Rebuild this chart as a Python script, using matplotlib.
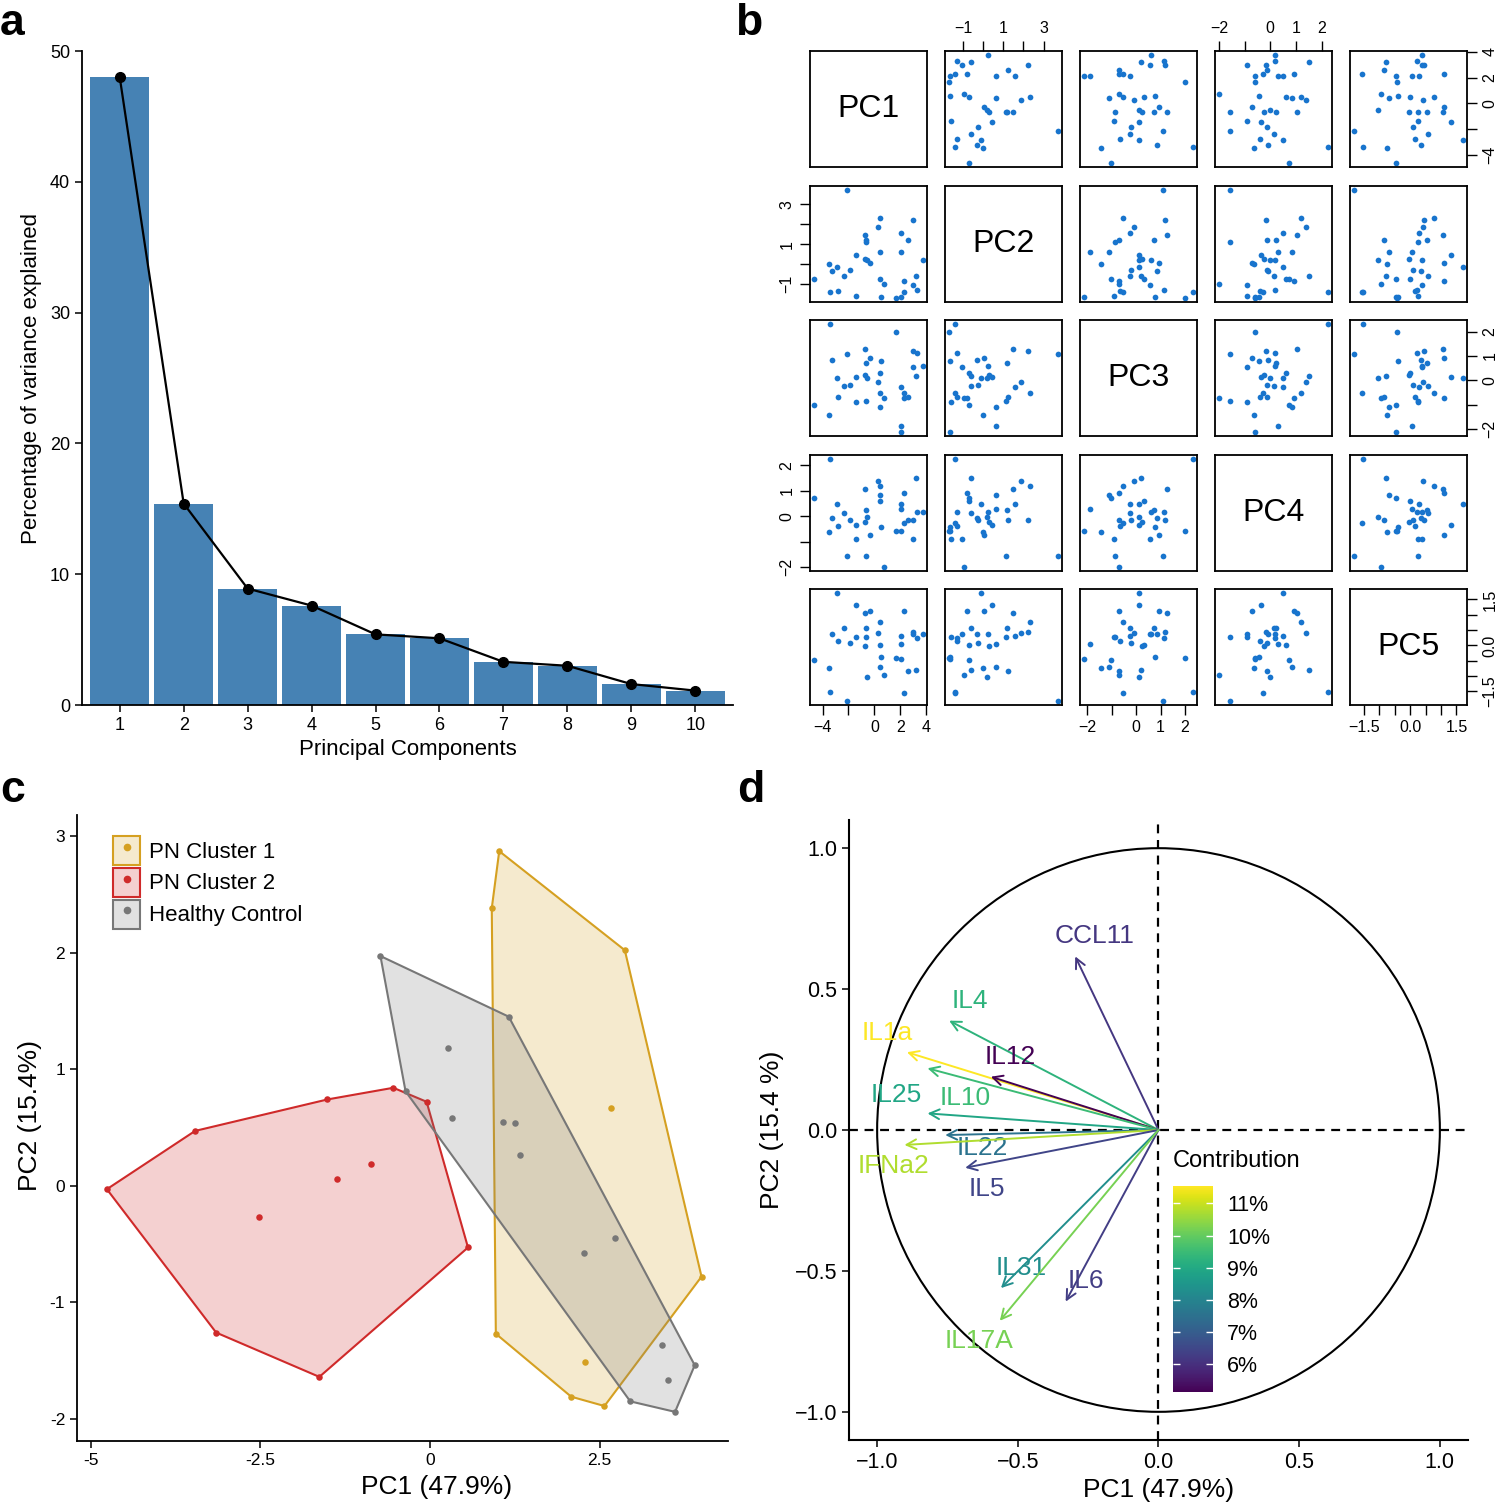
import matplotlib
matplotlib.use("Agg")
import matplotlib.pyplot as plt
import numpy as np
from matplotlib.patches import Circle, Patch
from matplotlib.lines import Line2D
from matplotlib.cm import ScalarMappable
from matplotlib.colors import Normalize

plt.rcParams['font.family'] = ['Liberation Sans', 'DejaVu Sans']

# ---------------- data ----------------
# a: scree plot
pcs = np.arange(1, 11)
var_pct = [48.0, 15.4, 8.9, 7.6, 5.4, 5.1, 3.3, 3.0, 1.6, 1.1]

# b: scores of the first five components (one value per sample)
pc1_s = [-4.64, -3.50, -3.44, -3.24, -2.87, -2.80, -2.38, -2.15, -1.89, -1.45, -1.39, -0.72,
         -0.67, -0.67, -0.72, -0.56, -0.33, 0.27, 0.45, 0.42, 0.45, 0.53, 0.73, 1.66, 2.10,
         2.10, 2.10, 2.31, 2.26, 2.57, 3.01, 3.01, 3.22, 3.27, 3.74]
pc2_s = [-0.72, 0.00, -1.38, -0.32, -0.13, -1.32, -0.58, 3.70, -0.27, 0.45, -1.58, 1.48,
         1.20, 1.12, 0.28, 0.20, 0.05, 1.87, 2.33, 0.62, -0.72, -1.65, -0.97, -1.68, 1.57,
         0.62, -1.63, -1.38, -0.82, 1.22, 2.23, -1.03, -0.60, -1.30, 0.22]
pc3_s = [-1.01, -1.45, 2.31, 0.85, 0.10, -0.67, -0.25, 1.09, -0.20, 0.12, -0.89, 1.28,
         0.71, -0.87, 0.23, 0.10, 0.93, -0.07, -0.52, -1.12, 0.30, 0.78, -0.71, 1.99, -0.26,
         -1.89, -2.12, -0.53, -0.71, -0.70, 1.19, 0.55, 0.19, 1.12, 0.61]
pc4_s = [0.72, -0.63, 2.23, -0.09, 0.48, -0.40, 0.13, -1.56, -0.13, -0.35, -0.91, 1.05,
         0.23, -1.56, -0.23, -0.03, -0.72, 1.38, 1.20, 0.85, 0.60, -0.42, -1.98, -0.60, 0.48,
         0.30, -0.59, -0.27, 0.91, -0.13, -0.16, -0.91, 1.51, 0.18, 0.18]
pc5_s = [-0.47, -0.74, -1.51, 0.36, 1.70, 0.16, 0.57, -1.80, 0.08, 1.33, 0.27, 1.06,
         0.56, 0.27, -0.03, -1.04, 1.11, 0.42, 0.78, -0.69, 0.00, -0.39, -0.95, -0.42, 0.30,
         0.06, -0.44, -1.54, 1.11, -0.83, 0.45, 0.38, -0.79, 0.24, 0.38]
pc_names = ['PC1', 'PC2', 'PC3', 'PC4', 'PC5']

# c: individuals on PC1/PC2 by group
c1_x = [1.02, 0.91, 2.87, 2.66, 4.00, 0.97, 2.29, 2.08, 2.57]
c1_y = [2.87, 2.38, 2.02, 0.67, -0.78, -1.27, -1.51, -1.81, -1.89]
c2_x = [-4.76, -3.46, -3.15, -1.63, -1.51, -0.54, 0.56, -2.52, -1.37, -0.87, -0.05]
c2_y = [-0.03, 0.47, -1.26, -1.64, 0.74, 0.84, -0.53, -0.27, 0.06, 0.19, 0.72]
hc_x = [-0.73, 1.16, 0.26, -0.36, 0.33, 1.07, 1.25, 1.32, 2.27, 2.73, 3.42, 3.51, 3.90, 2.95, 3.61]
hc_y = [1.97, 1.45, 1.18, 0.81, 0.58, 0.55, 0.54, 0.26, -0.58, -0.45, -1.37, -1.67, -1.54, -1.85, -1.94]
group_names = ['PN Cluster 1', 'PN Cluster 2', 'Healthy Control']

# d: variable loadings and contributions
var_names = ['CCL11', 'IL4', 'IL1a', 'IL12', 'IL10', 'IL25', 'IL22', 'IFNa2', 'IL5', 'IL31', 'IL6', 'IL17A']
load_x = [-0.296, -0.744, -0.894, -0.596, -0.821, -0.821, -0.758, -0.903, -0.687, -0.560, -0.330, -0.564]
load_y = [0.616, 0.388, 0.276, 0.189, 0.219, 0.059, -0.018, -0.053, -0.134, -0.561, -0.609, -0.677]
contrib = [6.14, 9.26, 11.53, 5.14, 9.50, 8.91, 7.57, 10.76, 6.45, 8.27, 6.31, 10.21]
lab_x = [-0.226, -0.669, -0.965, -0.527, -0.687, -0.931, -0.625, -0.941, -0.610, -0.488, -0.259, -0.637]
lab_y = [0.688, 0.456, 0.345, 0.259, 0.113, 0.124, -0.064, -0.127, -0.208, -0.488, -0.536, -0.750]


def convex_hull(xs, ys):
    pts = sorted(set(zip(xs, ys)))

    def cross(o, a, b):
        return (a[0] - o[0]) * (b[1] - o[1]) - (a[1] - o[1]) * (b[0] - o[0])

    lower, upper = [], []
    for p in pts:
        while len(lower) >= 2 and cross(lower[-2], lower[-1], p) <= 0:
            lower.pop()
        lower.append(p)
    for p in reversed(pts):
        while len(upper) >= 2 and cross(upper[-2], upper[-1], p) <= 0:
            upper.pop()
        upper.append(p)
    return np.array(lower[:-1] + upper[:-1])


W, H = 1500, 1504
fig = plt.figure(figsize=(15, 15.04), dpi=100)


def px_axes(x0, y0, x1, y1):
    # pixel box (top-left origin) -> figure axes
    return fig.add_axes([x0 / W, 1 - y1 / H, (x1 - x0) / W, (y1 - y0) / H])


# ---------------- panel a ----------------
ax = px_axes(82, 51, 733, 705)
ax.bar(pcs, var_pct, width=0.93, color='#4682B4')
ax.plot(pcs, var_pct, color='black', lw=1.6, marker='o', ms=7)
ax.set_xlim(0.41, 10.59)
ax.set_ylim(0, 50)
ax.set_xticks(pcs)
ax.set_yticks([0, 10, 20, 30, 40, 50])
for s in ['top', 'right']:
    ax.spines[s].set_visible(False)
for s in ['left', 'bottom']:
    ax.spines[s].set_linewidth(1.3)
ax.tick_params(labelsize=13, length=5, width=1.1)
ax.set_xlabel('Principal Components', fontsize=16, labelpad=4)
ax.set_ylabel('Percentage of variance explained', fontsize=16, labelpad=6)

# ---------------- panel b ----------------
scores = [np.array(v) for v in (pc1_s, pc2_s, pc3_s, pc4_s, pc5_s)]
lims = []
for v in scores:
    r = v.max() - v.min()
    lims.append((v.min() - 0.04 * r, v.max() + 0.04 * r))

m = '\u2212'
tick_pos = [[-4, -2, 0, 2, 4], [-1, 0, 1, 2, 3], [-2, -1, 0, 1, 2], [-2, -1, 0, 1, 2],
            [-1.5, -1, -0.5, 0, 0.5, 1, 1.5]]
tick_lab = [[m + '4', '', '0', '2', '4'], [m + '1', '', '1', '', '3'], [m + '2', '', '0', '1', '2'],
            [m + '2', '', '0', '1', '2'], [m + '1.5', '', '', '0.0', '', '', '1.5']]

col_x = [810, 945, 1080, 1215, 1350]
row_y = [51, 186, 320, 455, 589]
for i in range(5):
    for j in range(5):
        bx = px_axes(col_x[j], row_y[i], col_x[j] + 117, row_y[i] + 116)
        for s in bx.spines.values():
            s.set_linewidth(1.3)
        bx.set_xlim(lims[j])
        bx.set_ylim(lims[i])
        if i == j:
            bx.text(0.5, 0.5, pc_names[i], transform=bx.transAxes, ha='center', va='center',
                    fontsize=23)
        else:
            bx.scatter(scores[j], scores[i], s=17, color='#1874CD', linewidths=0)
        bx.tick_params(which='both', bottom=False, top=False, left=False, right=False,
                       labelbottom=False, labeltop=False, labelleft=False, labelright=False,
                       length=7, width=1, labelsize=11.5, direction='out', pad=4)
        bx.set_xticks(tick_pos[j])
        bx.set_xticklabels(tick_lab[j])
        bx.set_yticks(tick_pos[i])
        bx.set_yticklabels(tick_lab[i], rotation=90, va='center')
        if i == 0 and j % 2 == 1:
            bx.tick_params(top=True, labeltop=True)
        if i == 4 and j % 2 == 0:
            bx.tick_params(bottom=True, labelbottom=True)
        if j == 0 and i % 2 == 1:
            bx.tick_params(left=True, labelleft=True)
        if j == 4 and i % 2 == 0:
            bx.tick_params(right=True, labelright=True)

# ---------------- panel c ----------------
ax = px_axes(77, 815, 728, 1441)
group_cols = ['#D5A021', '#CF2A2A', '#777777']
group_data = [(c1_x, c1_y), (c2_x, c2_y), (hc_x, hc_y)]
handles = []
for (gx, gy), col, name in zip(group_data, group_cols, group_names):
    h = convex_hull(gx, gy)
    ax.fill(h[:, 0], h[:, 1], facecolor=col, alpha=0.22, edgecolor='none')
    ax.fill(h[:, 0], h[:, 1], facecolor='none', edgecolor=col, lw=1.5)
for (gx, gy), col, name in zip(group_data, group_cols, group_names):
    ax.scatter(gx, gy, s=22, color=col, linewidths=0, zorder=3)
    handles.append((Patch(facecolor=matplotlib.colors.to_rgba(col, 0.22), edgecolor=col, lw=1.5),
                    Line2D([], [], ls='none', marker='o', ms=4.5, color=col)))
ax.legend(handles, group_names, loc='upper left', bbox_to_anchor=(0.056, 0.967), frameon=False,
          fontsize=16, handlelength=1.2, handleheight=1.65, labelspacing=0.12, handletextpad=0.4,
          borderpad=0, borderaxespad=0)
ax.set_xlim(-5.2, 4.39)
ax.set_ylim(-2.19, 3.18)
ax.set_xticks([-5, -2.5, 0, 2.5])
ax.set_xticklabels(['-5', '-2.5', '0', '2.5'])
ax.set_yticks([-2, -1, 0, 1, 2, 3])
ax.set_yticklabels(['-2', '-1', '0', '1', '2', '3'])
for s in ['top', 'right']:
    ax.spines[s].set_visible(False)
for s in ['left', 'bottom']:
    ax.spines[s].set_linewidth(1.3)
ax.tick_params(labelsize=12.5, length=5, width=1.1)
ax.set_xlabel('PC1 (47.9%)', fontsize=19, labelpad=4)
ax.set_ylabel('PC2 (15.4%)', fontsize=19, labelpad=6)
ax.xaxis.set_label_coords(0.553, -0.055)
ax.yaxis.set_label_coords(-0.054, 0.52)

# ---------------- panel d ----------------
ax = px_axes(849, 820, 1468, 1440)
norm = Normalize(vmin=min(contrib), vmax=max(contrib))
cmap = plt.get_cmap('viridis')
ax.add_patch(Circle((0, 0), 1, fill=False, lw=1.5, color='black'))
ax.axhline(0, ls=(0, (4, 3)), color='black', lw=1.6)
ax.axvline(0, ls=(0, (4, 3)), color='black', lw=1.6)
for name, vx, vy, c, tx, ty in zip(var_names, load_x, load_y, contrib, lab_x, lab_y):
    col = cmap(norm(c))
    ax.annotate('', xy=(vx, vy), xytext=(0, 0),
                arrowprops=dict(arrowstyle='->,head_length=0.7,head_width=0.35', color=col, lw=1.4,
                                shrinkA=0, shrinkB=0))
    ax.text(tx, ty, name, color=col, fontsize=19, ha='center', va='center')
ax.set_xlim(-1.1, 1.1)
ax.set_ylim(-1.1, 1.1)
ticks = [-1.0, -0.5, 0.0, 0.5, 1.0]
tl = [m + '1.0', m + '0.5', '0.0', '0.5', '1.0']
ax.set_xticks(ticks)
ax.set_xticklabels(tl)
ax.set_yticks(ticks)
ax.set_yticklabels(tl)
for s in ['top', 'right']:
    ax.spines[s].set_visible(False)
for s in ['left', 'bottom']:
    ax.spines[s].set_linewidth(1.5)
ax.tick_params(labelsize=15.5, length=5, width=1.1)
ax.set_xlabel('PC1 (47.9%)', fontsize=19, labelpad=4)
ax.set_ylabel('PC2 (15.4 %)', fontsize=19, labelpad=8)

ax.text(0.05, -0.11, 'Contribution', fontsize=17, ha='left', va='center')
cax = ax.inset_axes([0.05, -0.93, 0.145, 0.73], transform=ax.transData)
cb = fig.colorbar(ScalarMappable(norm=norm, cmap=cmap), cax=cax)
cb.outline.set_visible(False)
cb.set_ticks([6, 7, 8, 9, 10, 11])
cb.set_ticklabels([f'{v}%' for v in [6, 7, 8, 9, 10, 11]])
cax.tick_params(left=True, right=True, labelleft=False, labelright=True, direction='in',
                length=5, width=1, color='white', labelsize=15.5, pad=10)

# ---------------- panel letters ----------------
for lx, ly, lt in [(0, 3, 'a'), (735, 3, 'b'), (0, 770, 'c'), (737, 770, 'd')]:
    fig.text(lx / W, 1 - ly / H, lt, fontsize=32, fontweight='bold', ha='left', va='top')

fig.savefig('out.png', dpi=100)
